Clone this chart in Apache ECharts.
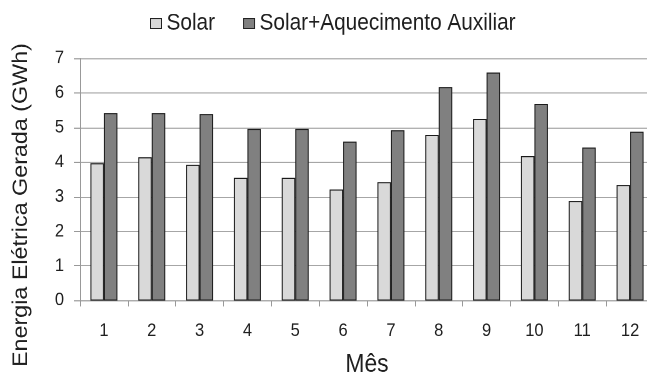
<!DOCTYPE html>
<html>
<head>
<meta charset="utf-8">
<script src="https://cdn.jsdelivr.net/npm/echarts@6/dist/echarts.min.js"></script>
<style>
  html, body { margin: 0; padding: 0; background: #fff; width: 647px; height: 378px; overflow: hidden; }
  /* the chart is laid out in a slightly shorter box and stretched vertically */
  #chart { width: 647px; height: 343.6px; transform: scaleY(1.1); transform-origin: 0 0; }
</style>
</head>
<body>
<div id="chart"></div>
<script>
// Monthly generated electric energy (GWh)
const months = ['1', '2', '3', '4', '5', '6', '7', '8', '9', '10', '11', '12'];
const solar = [3.97, 4.14, 3.92, 3.55, 3.55, 3.21, 3.42, 4.79, 5.25, 4.17, 2.88, 3.34];
const solarAux = [5.42, 5.42, 5.39, 4.96, 4.96, 4.59, 4.92, 6.17, 6.59, 5.68, 4.42, 4.88];
const seriesNames = ['Solar', 'Solar+Aquecimento Auxiliar'];
const yMin = 0, yMax = 7, yStep = 1;
const xTitle = 'Mês';
const yTitle = 'Energia Elétrica Gerada (GWh)';

const font = 'Liberation Sans, Arial, sans-serif';
const ink = '#1f1f1f';
const chart = echarts.init(document.getElementById('chart'), null, { renderer: 'canvas', devicePixelRatio: 2 });

chart.setOption({
  animation: false,
  textStyle: { fontFamily: font },
  legend: {
    top: 6,
    left: 145,
    itemWidth: 11,
    itemHeight: 9,
    itemGap: 28,
    icon: 'rect',
    textStyle: { fontSize: 20.8, color: ink, fontFamily: font },
    data: [
      { name: seriesNames[0], itemStyle: { borderColor: '#222', borderWidth: 1 } },
      { name: seriesNames[1], itemStyle: { borderColor: '#222', borderWidth: 1 } }
    ]
  },
  grid: { left: 80, top: 53, width: 574, height: 220.2, outerBoundsMode: 'none', containLabel: false },
  xAxis: {
    type: 'category',
    data: months,
    name: xTitle,
    nameLocation: 'middle',
    nameGap: 47,
    nameTextStyle: { fontSize: 22.9, color: ink, fontFamily: font },
    axisLine: { lineStyle: { color: '#999', width: 1 } },
    axisTick: { show: true, length: 5.4, lineStyle: { color: '#999' } },
    axisLabel: { fontSize: 16.5, color: ink, margin: 19.5, fontFamily: font }
  },
  yAxis: {
    type: 'value',
    min: yMin,
    max: yMax,
    interval: yStep,
    axisLine: { show: true, lineStyle: { color: '#999', width: 1 } },
    axisTick: { show: true, length: 6, lineStyle: { color: '#999' } },
    axisLabel: { fontSize: 16.5, color: ink, margin: 16, fontFamily: font },
    splitLine: { lineStyle: { color: '#a6a6a6', width: 1 } }
  },
  graphic: [
    {
      type: 'text',
      x: 21,
      y: 186.4,
      rotation: Math.PI / 2,
      style: {
        text: yTitle,
        fontSize: 21.2,
        fontFamily: font,
        fill: ink,
        align: 'center',
        verticalAlign: 'middle'
      }
    }
  ],
  series: [
    {
      name: seriesNames[0],
      type: 'bar',
      data: solar,
      barWidth: 13.5,
      barGap: '0%',
      itemStyle: { color: '#d9d9d9', borderColor: '#1a1a1a', borderWidth: 1 }
    },
    {
      name: seriesNames[1],
      type: 'bar',
      data: solarAux,
      barWidth: 13.5,
      barGap: '0%',
      itemStyle: { color: '#808080', borderColor: '#1a1a1a', borderWidth: 1 }
    }
  ]
});
</script>
</body>
</html>
